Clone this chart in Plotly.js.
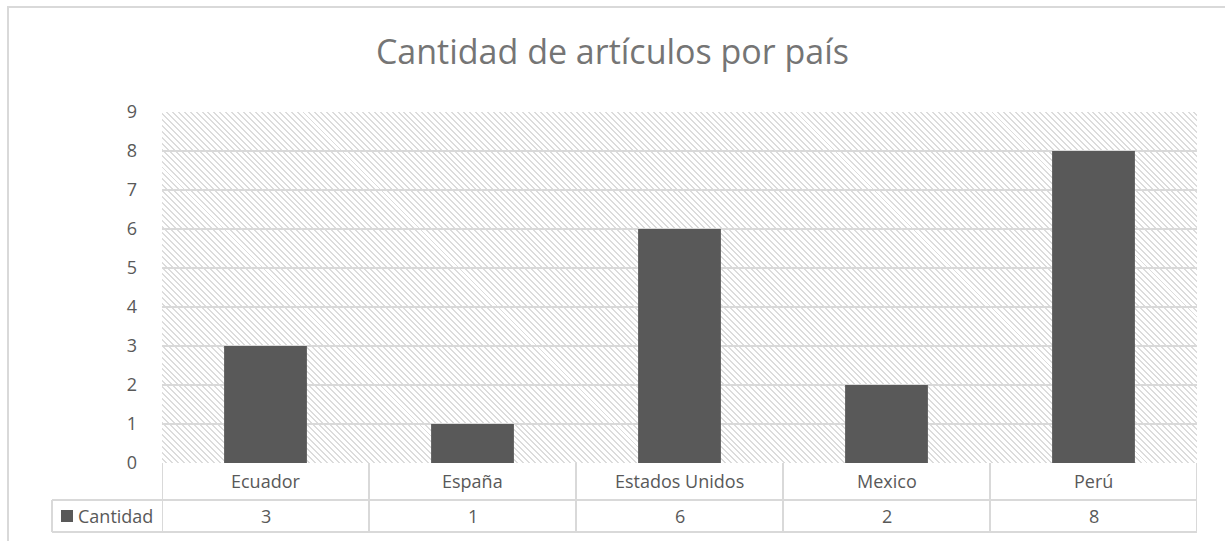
<!DOCTYPE html>
<html>
<head>
<meta charset="utf-8">
<script src="https://cdn.plot.ly/plotly-3.0.1.min.js"></script>
<style>
  html, body { margin:0; padding:0; background:#fff; width:1225px; height:541px; overflow:hidden; }
  #frame { position:absolute; left:7px; top:6px; width:3000px; height:3000px; border-left:2px solid #d9d9d9; border-top:2px solid #d9d9d9; }
  #hatch { position:absolute; background: repeating-linear-gradient(45deg, #ffffff 0px, #ffffff 2.8px, #dcdcdc 2.8px, #dcdcdc 4.2px); }
  #chart { position:absolute; left:0; top:0; width:1225px; height:541px; }
</style>
</head>
<body>
<div id="frame"></div>
<div id="hatch"></div>
<div id="chart"></div>
<script>
const categories = ["Ecuador", "España", "Estados Unidos", "Mexico", "Perú"];
const values = [3, 1, 6, 2, 8];
const seriesName = "Cantidad";
const chartTitle = "Cantidad de artículos por país";

const L = 162, T = 112, W = 1035, H = 351;
const hatch = document.getElementById('hatch');
hatch.style.left = L + 'px'; hatch.style.top = T + 'px';
hatch.style.width = W + 'px'; hatch.style.height = H + 'px';

const grey = '#595959', line = '#d9d9d9';
const font = "'Open Sans', sans-serif";
const py = p => (T + H - p) / H;   // pixel y -> paper
const px = p => (p - L) / W;       // pixel x -> paper

const shapes = [];
const annotations = [];
shapes.push({type:'line', xref:'paper', yref:'paper', x0:px(52), x1:1, y0:py(500), y1:py(500), line:{color:line, width:2}});
shapes.push({type:'line', xref:'paper', yref:'paper', x0:px(52), x1:1, y0:py(532), y1:py(532), line:{color:line, width:2}});
shapes.push({type:'line', xref:'paper', yref:'paper', x0:px(52), x1:px(52), y0:py(500), y1:py(532), line:{color:line, width:2}});
for (let i = 0; i <= categories.length; i++) {
  shapes.push({type:'line', xref:'x', yref:'paper', x0:i-0.5, x1:i-0.5, y0:0, y1:py(532), line:{color:line, width:2}});
}
// legend key square
shapes.push({type:'rect', xref:'paper', yref:'paper', x0:px(61), x1:px(73), y0:py(522), y1:py(510), fillcolor:grey, line:{width:0}});
categories.forEach((c, i) => {
  annotations.push({xref:'x', yref:'paper', x:i, y:py(481), yanchor:'middle', xanchor:'center', text:c, showarrow:false, font:{family:font, size:18, color:grey}});
  annotations.push({xref:'x', yref:'paper', x:i, y:py(516), yanchor:'middle', xanchor:'center', text:String(values[i]), showarrow:false, font:{family:font, size:18, color:grey}});
});
annotations.push({xref:'paper', yref:'paper', x:px(76), y:py(516), xanchor:'left', yanchor:'middle', text:seriesName, showarrow:false, font:{family:font, size:18, color:grey}});

const data = [{
  type:'bar', x:categories, y:values, name:seriesName,
  marker:{color:grey}, width:0.4, hoverinfo:'x+y'
}];

const layout = {
  width:1225, height:541,
  margin:{l:L, r:1225-L-W, t:T, b:541-T-H, pad:0},
  paper_bgcolor:'rgba(0,0,0,0)', plot_bgcolor:'rgba(0,0,0,0)',
  title:{text:chartTitle, x:0.5, xref:'container', xanchor:'center', y:1-52/541, yanchor:'middle', font:{family:font, size:34, color:'#757575'}},
  showlegend:false,
  xaxis:{type:'category', range:[-0.5, 4.5], showticklabels:false, showgrid:false, zeroline:false, showline:false, fixedrange:true},
  yaxis:{range:[0, 9], dtick:1, tick0:0, showgrid:true, gridcolor:line, gridwidth:2, zeroline:false, showline:false,
         ticks:'', ticklabelstandoff:24, tickfont:{family:font, size:18, color:grey}},
  shapes:shapes, annotations:annotations
};
Plotly.newPlot('chart', data, layout, {displayModeBar:false, staticPlot:true});
</script>
</body>
</html>
